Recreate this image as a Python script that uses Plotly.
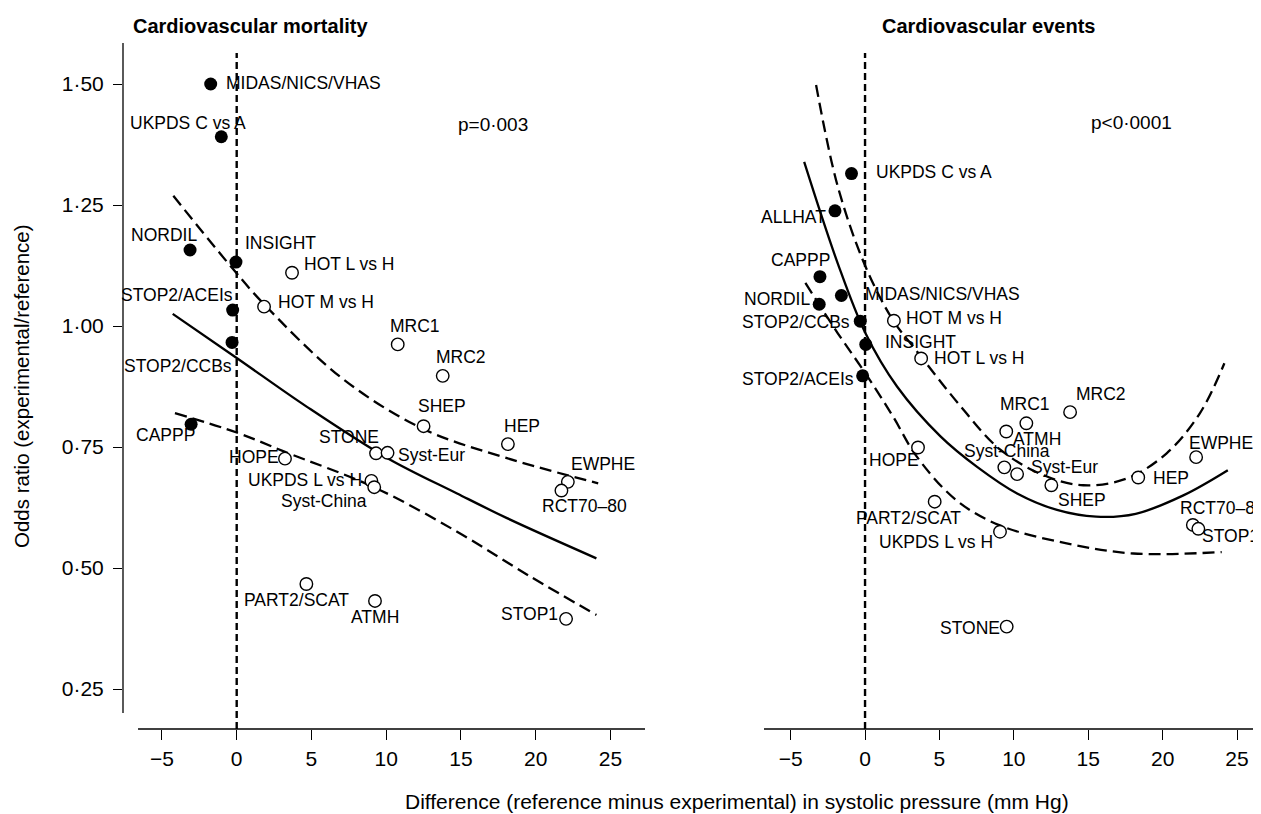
import plotly.graph_objects as go

# ---------------- data ----------------
# Cardiovascular mortality (left panel)
mort_names = ["MIDAS/NICS/VHAS", "UKPDS C vs A", "NORDIL", "INSIGHT", "STOP2/ACEIs",
              "STOP2/CCBs", "CAPPP", "HOT L vs H", "HOT M vs H", "MRC1", "MRC2", "SHEP",
              "HEP", "STONE", "Syst-Eur", "HOPE", "EWPHE", "RCT70–80", "UKPDS L vs H",
              "Syst-China", "PART2/SCAT", "ATMH", "STOP1"]
mort_dsbp = [-1.74, -1.03, -3.12, -0.05, -0.27, -0.31, -3.05, 3.70, 1.83, 10.77, 13.78, 12.50,
             18.14, 9.32, 10.09, 3.23, 22.15, 21.72, 9.01, 9.20, 4.66, 9.25, 22.03]
mort_or = [1.50, 1.391, 1.157, 1.132, 1.033, 0.966, 0.797, 1.110, 1.040, 0.962, 0.897, 0.793,
           0.756, 0.737, 0.738, 0.726, 0.678, 0.660, 0.680, 0.667, 0.467, 0.432, 0.395]
mort_newer = [True] * 7 + [False] * 16   # filled = newer-vs-older drug comparison

mort_fit_x = [-4.28, 0.0, 4.7, 10.09, 14.74, 18.08, 24.06]
mort_fit_y = [1.025, 0.934, 0.833, 0.727, 0.654, 0.603, 0.520]
mort_hi_x = [-4.24, -0.2, 1.83, 7.13, 12.5, 18.08, 24.18]
mort_hi_y = [1.269, 1.116, 1.045, 0.890, 0.787, 0.727, 0.675]
mort_lo_x = [-4.13, 0.0, 3.23, 9.25, 14.74, 19.5, 24.06]
mort_lo_y = [0.820, 0.780, 0.740, 0.666, 0.575, 0.485, 0.403]

# Cardiovascular events (right panel)
ev_names = ["UKPDS C vs A", "ALLHAT", "CAPPP", "MIDAS/NICS/VHAS", "NORDIL", "STOP2/CCBs",
            "INSIGHT", "STOP2/ACEIs", "HOT M vs H", "HOT L vs H", "MRC2", "MRC1", "ATMH",
            "HOPE", "Syst-China", "Syst-Eur", "SHEP", "HEP", "EWPHE", "PART2/SCAT",
            "UKPDS L vs H", "RCT70–80", "STOP1", "STONE"]
ev_dsbp = [-0.91, -2.02, -3.03, -1.59, -3.08, -0.32, 0.05, -0.16, 1.94, 3.77, 13.78, 10.84,
           9.49, 3.56, 9.36, 10.22, 12.52, 18.36, 22.25, 4.68, 9.07, 22.03, 22.40, 9.52]
ev_or = [1.315, 1.238, 1.102, 1.063, 1.045, 1.010, 0.962, 0.897, 1.011, 0.933, 0.822, 0.799,
         0.782, 0.749, 0.708, 0.694, 0.671, 0.687, 0.729, 0.637, 0.575, 0.589, 0.581, 0.379]
ev_newer = [True] * 8 + [False] * 16

ev_fit_x = [-4.09, -1.83, 0.03, 2.15, 5.07, 7.53, 10.22, 12.9, 15.53, 18.19, 21.39, 24.38]
ev_fit_y = [1.339, 1.129, 0.985, 0.875, 0.772, 0.709, 0.654, 0.620, 0.606, 0.612, 0.650, 0.702]
ev_hi_x = [-3.29, -1.83, 0.03, 1.88, 3.48, 6.4, 9.07, 11.98, 14.67, 17.59, 20.27, 22.51, 24.15]
ev_hi_y = [1.498, 1.288, 1.123, 1.012, 0.948, 0.835, 0.745, 0.692, 0.671, 0.685, 0.737, 0.820, 0.923]
ev_lo_x = [-4.01, -1.83, 0.03, 1.88, 3.48, 6.14, 9.06, 13.55, 18.03, 23.97]
ev_lo_y = [1.089, 0.985, 0.902, 0.813, 0.730, 0.640, 0.588, 0.551, 0.530, 0.533]

x_ticks = [-5, 0, 5, 10, 15, 20, 25]
x_ticktext = ["−5", "0", "5", "10", "15", "20", "25"]
y_ticks = [0.25, 0.50, 0.75, 1.00, 1.25, 1.50]
y_ticktext = ["0·25", "0·50", "0·75", "1·00", "1·25", "1·50"]

titles = ["Cardiovascular mortality", "Cardiovascular events"]
p_texts = ["p=0·003", "p<0·0001"]
x_title = "Difference (reference minus experimental) in systolic pressure (mm Hg)"
y_title = "Odds ratio (experimental/reference)"

# ---------------- label placement (style) ----------------
mort_lab = {
    "MIDAS/NICS/VHAS": ("left", 15, 0), "UKPDS C vs A": ("right", 25, 13),
    "NORDIL": ("right", 7, 14), "INSIGHT": ("left", 9, 18), "STOP2/ACEIs": ("right", 0, 14),
    "STOP2/CCBs": ("right", 0, -25), "CAPPP": ("right", 4, -12), "HOT L vs H": ("left", 12, 8),
    "HOT M vs H": ("left", 14, 4), "MRC1": ("left", -8, 17), "MRC2": ("left", -7, 18),
    "SHEP": ("left", -6, 19), "HEP": ("left", -4, 17), "STONE": ("right", 3, 15),
    "Syst-Eur": ("left", 10, -3), "HOPE": ("right", -6, 1), "EWPHE": ("left", 3, 17),
    "RCT70–80": ("left", -19, -16), "UKPDS L vs H": ("right", -9, 0),
    "Syst-China": ("right", -7, -15), "PART2/SCAT": ("center", -10, -17),
    "ATMH": ("center", 0, -17), "STOP1": ("right", -8, 4),
}
ev_lab = {
    "UKPDS C vs A": ("left", 24, 1), "ALLHAT": ("right", -9, -7), "CAPPP": ("right", 10, 16),
    "MIDAS/NICS/VHAS": ("left", 24, 1), "NORDIL": ("right", -9, 4),
    "STOP2/CCBs": ("right", -10, -2), "INSIGHT": ("left", 19, 1),
    "STOP2/ACEIs": ("right", -9, -4), "HOT M vs H": ("left", 12, 2),
    "HOT L vs H": ("left", 13, -1), "MRC2": ("left", 6, 17), "MRC1": ("center", -1, 18),
    "ATMH": ("left", 7, -8), "HOPE": ("right", 1, -14), "Syst-China": ("center", 3, 15),
    "Syst-Eur": ("left", 14, 6), "SHEP": ("left", 7, -16), "HEP": ("left", 15, -1),
    "EWPHE": ("left", -7, 13), "PART2/SCAT": ("center", -26, -17),
    "UKPDS L vs H": ("right", -7, -11), "RCT70–80": ("left", -13, 16),
    "STOP1": ("left", 4, -8), "STONE": ("right", -7, -2),
}

FONT = "Liberation Sans"
OFF = 8                      # page body margin
W, H = 1261 - OFF, 814 - OFF
ML, MR, MT, MB = 123 - OFF, 0, 43 - OFF, 85
PW = W - ML - MR             # 1138
PH = H - MT - MB             # 686


def px_x(px):   # screen px -> paper x
    return (px - OFF - ML) / PW


def px_y(py):   # screen px -> paper y
    return (MT + PH - (py - OFF)) / PH


fig = go.Figure()


def add_panel(xa, ya, names, xs, ys, newer, fx, fy, hx, hy, lx, ly, labpos):
    for cx, cy, dash in ((hx, hy, "12px,6px"), (lx, ly, "12px,6px"), (fx, fy, "solid")):
        fig.add_trace(go.Scatter(x=cx, y=cy, mode="lines", xaxis=xa, yaxis=ya,
                                 line=dict(color="black", width=2.3, dash=dash, shape="spline",
                                           smoothing=1.0),
                                 hoverinfo="skip", cliponaxis=False))
    fx_ = [x for x, n in zip(xs, newer) if n]
    fy_ = [y for y, n in zip(ys, newer) if n]
    ox_ = [x for x, n in zip(xs, newer) if not n]
    oy_ = [y for y, n in zip(ys, newer) if not n]
    fig.add_trace(go.Scatter(x=ox_, y=oy_, mode="markers", xaxis=xa, yaxis=ya, cliponaxis=False,
                             marker=dict(size=12.5, color="white", line=dict(color="black", width=1.4))))
    fig.add_trace(go.Scatter(x=fx_, y=fy_, mode="markers", xaxis=xa, yaxis=ya, cliponaxis=False,
                             marker=dict(size=13, color="black", line=dict(color="black", width=0))))
    for n, x, y in zip(names, xs, ys):
        anc, dx, dy = labpos[n]
        fig.add_annotation(x=x, y=y, xref=xa, yref=ya, text=n, showarrow=False,
                           xanchor=anc, yanchor="middle", xshift=dx, yshift=dy + 1,
                           borderpad=0, borderwidth=0,
                           font=dict(family=FONT, size=17.5, color="black"))


add_panel("x", "y", mort_names, mort_dsbp, mort_or, mort_newer,
          mort_fit_x, mort_fit_y, mort_hi_x, mort_hi_y, mort_lo_x, mort_lo_y, mort_lab)
add_panel("x2", "y2", ev_names, ev_dsbp, ev_or, ev_newer,
          ev_fit_x, ev_fit_y, ev_hi_x, ev_hi_y, ev_lo_x, ev_lo_y, ev_lab)

# axis geometry
y_range = [0.1674, 1.5847]
x1_range = [-7.605, 27.31]
x2_range = [-6.79, 26.61]
x1_dom = [0, px_x(645)]
x2_dom = [px_x(764), 1.0]

common_x = dict(tickvals=x_ticks, ticktext=x_ticktext, ticks="outside", ticklen=10,
                tickwidth=1.3, tickcolor="black", showline=False, showgrid=False,
                zeroline=False, tickfont=dict(family=FONT, size=21, color="black"),
                ticklabelstandoff=1, fixedrange=True)
fig.update_layout(
    xaxis=dict(domain=x1_dom, range=x1_range, anchor="y", **common_x),
    xaxis2=dict(domain=x2_dom, range=x2_range, anchor="y2", **common_x),
    yaxis=dict(domain=[0, 1], range=y_range, anchor="x", tickvals=y_ticks, ticktext=y_ticktext,
               ticks="outside", ticklen=9, tickwidth=1.3, tickcolor="black", showline=False,
               showgrid=False, zeroline=False, ticklabelstandoff=5,
               tickfont=dict(family=FONT, size=21, color="black")),
    yaxis2=dict(domain=[0, 1], range=y_range, anchor="x2", showticklabels=False, ticks="",
                showline=False, showgrid=False, zeroline=False),
)

shapes = [
    # y axis line (left)
    dict(type="line", xref="paper", yref="y", x0=0, x1=0, y0=0.2004, y1=y_range[1],
         line=dict(color="black", width=1.3)),
    # x axis lines
    dict(type="line", xref="x", yref="paper", x0=-6.6, x1=x1_range[1], y0=0, y1=0,
         line=dict(color="black", width=1.6)),
    dict(type="line", xref="x2", yref="paper", x0=x2_range[0], x1=x2_range[1], y0=0, y1=0,
         line=dict(color="black", width=1.6)),
    # zero reference lines
    dict(type="line", xref="x", yref="y", x0=0, x1=0, y0=y_range[0], y1=1.564,
         line=dict(color="black", width=2.4, dash="7px,4px")),
    dict(type="line", xref="x2", yref="y2", x0=0, x1=0, y0=y_range[0], y1=1.564,
         line=dict(color="black", width=2.4, dash="7px,4px")),
]
fig.update_layout(shapes=shapes)

# titles & texts
fig.add_annotation(x=px_x(250), y=px_y(26), xref="paper", yref="paper",
                   text="<b>" + titles[0] + "</b>", showarrow=False, xanchor="center",
                   yanchor="middle", font=dict(family=FONT, size=20, color="black"))
fig.add_annotation(x=px_x(988), y=px_y(26), xref="paper", yref="paper",
                   text="<b>" + titles[1] + "</b>", showarrow=False, xanchor="center",
                   yanchor="middle", font=dict(family=FONT, size=20, color="black"))
fig.add_annotation(x=17.14, y=1.417, xref="x", yref="y", text=p_texts[0], showarrow=False,
                   xanchor="center", yanchor="middle", font=dict(family=FONT, size=19, color="black"))
fig.add_annotation(x=17.88, y=1.421, xref="x2", yref="y2", text=p_texts[1], showarrow=False,
                   xanchor="center", yanchor="middle", font=dict(family=FONT, size=19, color="black"))
fig.add_annotation(x=px_x(737), y=px_y(801), xref="paper", yref="paper",
                   text=x_title, showarrow=False, xanchor="center", yanchor="middle",
                   font=dict(family=FONT, size=21, color="black"))
fig.add_annotation(x=px_x(21), y=0.5, xref="paper", yref="paper", text=y_title,
                   textangle=-90, showarrow=False, xanchor="center", yanchor="middle",
                   font=dict(family=FONT, size=20.5, color="black"))

fig.update_layout(width=W, height=H, margin=dict(l=ML, r=MR, t=MT, b=MB, pad=0),
                  paper_bgcolor="white", plot_bgcolor="white", showlegend=False,
                  hovermode=False)

fig.write_html("out.html")
